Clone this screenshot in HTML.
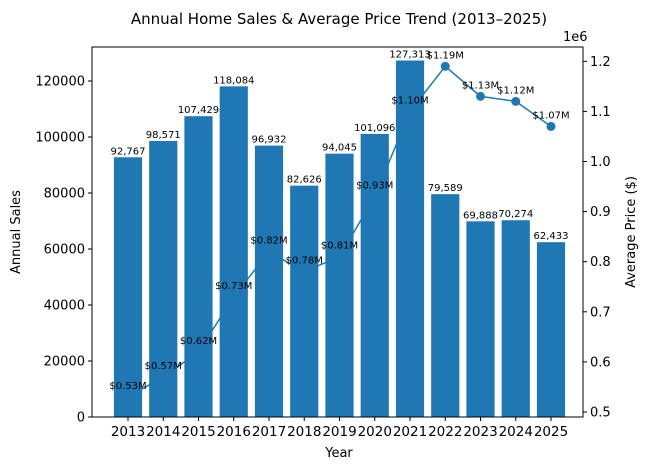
<!DOCTYPE html>
<html><head><meta charset="utf-8"><style>
body{margin:0;background:#fff;font-family:"Liberation Sans","DejaVu Sans",sans-serif;}
svg text{font-family:"DejaVu Sans","Liberation Sans",sans-serif;}
</style></head><body>
<svg id="chart" width="649" height="470" xmlns="http://www.w3.org/2000/svg">
<text x="339" y="24" font-size="15" text-anchor="middle">Annual Home Sales &amp; Average Price Trend (2013–2025)</text>
<g id="line-layer"></g>
<g id="bar-layer"></g>
<g id="label-layer"></g>
<g id="axes"></g>
</svg>
<script>
const years=["2013","2014","2015","2016","2017","2018","2019","2020","2021","2022","2023","2024","2025"];
const sales=[92767,98571,107429,118084,96932,82626,94045,101096,127313,79589,69888,70274,62433];
const prices=[0.53,0.57,0.62,0.73,0.82,0.78,0.81,0.93,1.10,1.19,1.13,1.12,1.07];
const leftTicks=[0,20000,40000,60000,80000,100000,120000];
const rightTicks=[0.5,0.6,0.7,0.8,0.9,1.0,1.1,1.2];
const L=92,R=583,T=47,B=417;
const ns="http://www.w3.org/2000/svg";
function xs(i){return 128+i*35.25;}
function ys(v){return B-v*(B-T)/132143;}
function yp(v){return 412-(v-0.5)*501;}
function mk(tag,attrs,parent,text){const e=document.createElementNS(ns,tag);for(const k in attrs)e.setAttribute(k,attrs[k]);if(text!==undefined)e.textContent=text;document.getElementById(parent).appendChild(e);return e;}
const col="#1f77b4";
let d=prices.map((p,i)=>(i?"L":"M")+xs(i)+","+yp(p)).join(" ");
let ln=mk("path",{d:d,fill:"none",stroke:col,"stroke-width":1.5},"line-layer");


prices.forEach((p,i)=>{let c=mk("circle",{cx:xs(i),cy:yp(p),r:4.5,fill:col},"line-layer");

});
sales.forEach((s,i)=>{let r=mk("rect",{x:xs(i)-14.1,y:ys(s),width:28.2,height:B-ys(s),fill:col},"bar-layer");


let t=mk("text",{x:xs(i),y:ys(s)-3,"font-size":10,"text-anchor":"middle"},"label-layer",s.toLocaleString("en-US"));


let pt=mk("text",{x:xs(i),y:yp(prices[i])-8,"font-size":10,"text-anchor":"middle"},"label-layer","$"+prices[i].toFixed(2)+"M");

});
let fr=mk("rect",{x:L,y:T,width:R-L,height:B-T,fill:"none",stroke:"#000","stroke-width":1},"axes");


leftTicks.forEach(v=>{const y=ys(v);mk("line",{x1:L-4,x2:L,y1:y,y2:y,stroke:"#000"},"axes");
let t=mk("text",{x:L-7,y:y+4.5,"font-size":13,"text-anchor":"end"},"axes",String(v));

});
rightTicks.forEach(v=>{const y=yp(v);mk("line",{x1:R,x2:R+4,y1:y,y2:y,stroke:"#000"},"axes");
let t=mk("text",{x:R+7,y:y+4.5,"font-size":13},"axes",v.toFixed(1));

});
years.forEach((yr,i)=>{mk("line",{x1:xs(i),x2:xs(i),y1:B,y2:B+4,stroke:"#000"},"axes");
let t=mk("text",{x:xs(i),y:B+19,"font-size":13.5,"text-anchor":"middle"},"axes",yr);

});
let ex=mk("text",{x:R-20,y:T-6,"font-size":13},"axes","1e6");


let xt=mk("text",{x:339,y:457,"font-size":13,"text-anchor":"middle"},"axes","Year");


let yl=mk("text",{x:20,y:232,"font-size":13,"text-anchor":"middle",transform:"rotate(-90 20 232)"},"axes","Annual Sales");


let yr2=mk("text",{x:635,y:232,"font-size":13,"text-anchor":"middle",transform:"rotate(-90 635 232)"},"axes","Average Price ($)");


</script>
</body></html>
